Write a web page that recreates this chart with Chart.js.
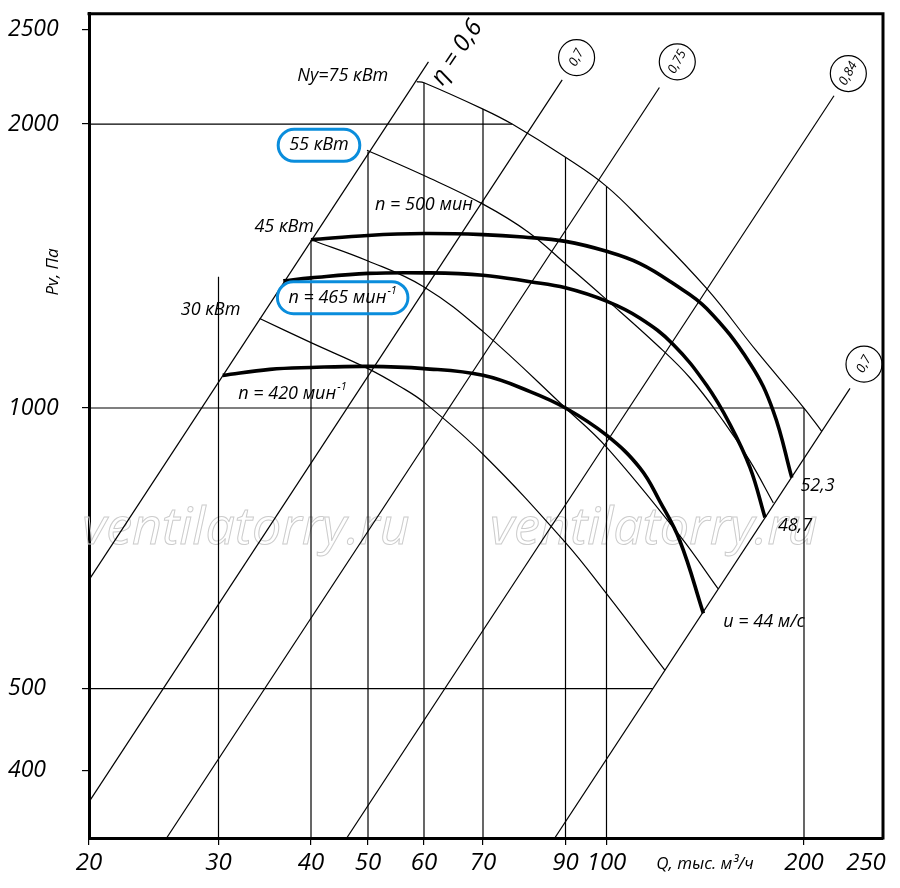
<!DOCTYPE html>
<html><head><meta charset="utf-8">
<script src="https://cdn.jsdelivr.net/npm/chart.js@4"></script>
<style>html,body{margin:0;padding:0;background:#fff;}canvas{display:block;}</style>
</head><body>
<canvas id="c" width="900" height="888" style="width:900px;height:888px"></canvas>
<script>
// ---------- DATA (Q, тыс. м³/ч ; Pv, Па) ----------
const xTickValues = [20, 30, 40, 50, 60, 70, 90, 100, 200, 250];
const yTickValues = [400, 500, 1000, 2000, 2500];
const Q_MIN = 20, Q_MAX = 265.8, P_MIN = 333.1, P_MAX = 2594;

// fan curves
const n500Q = [40, 50, 60, 70, 79.1, 90, 100, 112.5, 126.4, 142.1, 165.5, 179.6, 191.6];
const n500P = [1508, 1524, 1531, 1527, 1518, 1502, 1466, 1423, 1355, 1275, 1115, 992, 842];
const n465Q = [36.7, 40, 50, 60, 70, 80.8, 90, 100, 112.5, 126.4, 142.1, 154.3, 165.5, 174.4];
const n465P = [1364, 1374, 1389, 1391, 1383, 1361, 1341, 1298, 1245, 1168, 1057, 960, 863, 763];
const n420Q = [30.4, 35.2, 40, 50, 60, 70, 80.8, 90, 100, 112.5, 120.7, 129.4, 140.5];
const n420P = [1083, 1099, 1104, 1107, 1101, 1083, 1041, 1000, 935, 862, 793, 720, 602];

// shaft power curves
const pw75Q = [58.6, 60, 70, 76.5, 90, 100, 113.8, 142.1, 169.0, 200, 213.2];
const pw75P = [2211, 2205, 2072, 2000, 1844, 1718, 1575, 1339, 1151, 1000, 944];
const pw55Q = [49.8, 60, 70, 80.3, 90, 100, 119.3, 134.1, 150.7, 165.5, 179.6];
const pw55P = [1876, 1764, 1645, 1537, 1422, 1303, 1167, 1076, 968, 877, 791];
const pw45Q = [40, 50, 60, 70, 90, 100, 129.4, 147.9];
const pw45P = [1508, 1432, 1344, 1205, 1000, 908, 729, 640];
const pw30Q = [34.1, 40, 50, 55.5, 60, 70, 90, 100, 122.8];
const pw30P = [1244, 1173, 1101, 1054, 1014, 892, 717, 632, 523];

// efficiency lines
const etaNames  = ['η = 0,6', '0,7', '0,75', '0,84', '0,7'];
const etaStartQ = [20, 20, 25.5, 46.0, 87.1];
const etaStartP = [654, 367.5, 333.1, 333.1, 333.1];
const etaEndQ   = [60.7, 89.1, 120.4, 222.8, 236.0];
const etaEndP   = [2316, 2220, 2180, 2138, 1049];
const etaTagQ   = [65.4, 92.6, 128.2, 234.6, 248.2];
const etaTagP   = [2367, 2339, 2316, 2253, 1113];

// grid segments
const vGridQ    = [30, 40, 50, 60, 70, 90, 100, 200];
const vGridTopP = [1378, 1508, 1870, 2205, 2072, 1844, 1718, 1000];
const hGridP    = [2000, 1000, 500];
const hGridEndQ = [76.5, 200, 117.7];

// text labels ('^' marks a superscript)
const labelTexts = ['Ny=75 кВт', '55 кВт', '45 кВт', '30 кВт', 'n = 500 мин', 'n = 465 мин^-1', 'n = 420 мин^-1', '52,3', '48,7', 'u = 44 м/с'];
const labelQ = [45.3, 41.27, 36.8, 29.26, 60, 45.28, 37.76, 210.0, 193.8, 173.8];
const labelP = [2242, 1899, 1556, 1271, 1641, 1309, 1034, 824.7, 747.4, 590.1];
const boxedLabels = [1, 5];
const watermarkText = 'ventilatorry.ru';
const watermarkQ = [32.68, 118.1];
const watermarkP = [742, 742];

// ---------- warped log scale (calibrated to the drawing's axis) ----------
const WARP = {
  x: [[20,0],[30,0.16310],[40,0.27960],[50,0.35139],[60,0.42191],[70,0.49622],[90,0.60013],[100,0.65176],[200,0.90050],[250,0.97859]],
  y: [[333.1,0],[400,0.08171],[500,0.18131],[1000,0.52170],[2000,0.86619],[2500,0.98102]]
};
class WarpedLogScale extends Chart.LogarithmicScale {
  _frac(v) {
    const k = WARP[this.axis]; const lv = Math.log(v);
    let i = 0;
    while (i < k.length - 2 && lv > Math.log(k[i+1][0])) i++;
    const la = Math.log(k[i][0]), lb = Math.log(k[i+1][0]);
    return k[i][1] + (lv - la) / (lb - la) * (k[i+1][1] - k[i][1]);
  }
  getPixelForValue(v) {
    if (v === undefined || v === null || !(v > 0)) return NaN;
    const f = this._frac(v);
    return this.isHorizontal() ? this.left + f * this.width : this.bottom - f * this.height;
  }
  getValueForPixel(p) {
    const k = WARP[this.axis];
    const f = this.isHorizontal() ? (p - this.left) / this.width : (this.bottom - p) / this.height;
    let i = 0;
    while (i < k.length - 2 && f > k[i+1][1]) i++;
    const la = Math.log(k[i][0]), lb = Math.log(k[i+1][0]);
    return Math.exp(la + (f - k[i][1]) / (k[i+1][1] - k[i][1]) * (lb - la));
  }
}
WarpedLogScale.id = 'warpedLog';
WarpedLogScale.defaults = Chart.LogarithmicScale.defaults;
Chart.register(WarpedLogScale);

// ---------- datasets ----------
const pts = (qs, ps) => qs.map((q, i) => ({ x: q, y: ps[i] }));
const THIN = 1.2, THICK = 3.6;
const datasets = [];
function addLine(data, width, tension) {
  datasets.push({ data, borderColor: '#000', borderWidth: width, pointRadius: 0,
    fill: false, tension: tension, borderCapStyle: 'butt' });
}
vGridQ.forEach((q, i) => addLine([{ x: q, y: P_MIN }, { x: q, y: vGridTopP[i] }], THIN, 0));
hGridP.forEach((p, i) => addLine([{ x: Q_MIN, y: p }, { x: hGridEndQ[i], y: p }], THIN, 0));
etaNames.forEach((n, i) => addLine([{ x: etaStartQ[i], y: etaStartP[i] }, { x: etaEndQ[i], y: etaEndP[i] }], THIN, 0));
addLine(pts(pw75Q, pw75P), THIN, 0.4);
addLine(pts(pw55Q, pw55P), THIN, 0.4);
addLine(pts(pw45Q, pw45P), THIN, 0.4);
addLine(pts(pw30Q, pw30P), THIN, 0.4);
addLine(pts(n500Q, n500P), THICK, 0.4);
addLine(pts(n465Q, n465P), THICK, 0.4);
addLine(pts(n420Q, n420P), THICK, 0.4);

// ---------- annotation plugin ----------
const FONT = '"Open Sans", "Noto Sans", sans-serif';
function drawLabel(ctx, text, cx, cy) {
  const [base, sup] = text.split('^');
  ctx.font = `italic 18px ${FONT}`;
  const wb = ctx.measureText(base).width;
  let ws = 0;
  if (sup) { ctx.font = `italic 11px ${FONT}`; ws = ctx.measureText(sup).width + 1; }
  const total = wb + ws;
  const x0 = cx - total / 2;
  ctx.textAlign = 'left'; ctx.textBaseline = 'middle';
  ctx.font = `italic 18px ${FONT}`;
  ctx.fillText(base, x0, cy);
  if (sup) { ctx.font = `italic 11px ${FONT}`; ctx.fillText(sup, x0 + wb + 1, cy - 7); }
  return total;
}
const annotate = {
  id: 'annotate',
  beforeDatasetsDraw(chart) {
    const { ctx, scales: { x, y } } = chart;
    ctx.save();
    ctx.font = `italic 52px ${FONT}`;
    ctx.textAlign = 'center'; ctx.textBaseline = 'middle';
    ctx.strokeStyle = '#cccccc'; ctx.lineWidth = 1;
    watermarkQ.forEach((q, i) => ctx.strokeText(watermarkText, x.getPixelForValue(q), y.getPixelForValue(watermarkP[i])));
    ctx.restore();
  },
  afterDatasetsDraw(chart) {
    const { ctx, chartArea: a, scales: { x, y } } = chart;
    ctx.save();
    // top & right frame
    ctx.strokeStyle = '#000'; ctx.lineWidth = 3;
    ctx.beginPath();
    ctx.moveTo(a.left - 1.5, a.top); ctx.lineTo(a.right, a.top); ctx.lineTo(a.right, a.bottom + 1.5);
    ctx.stroke();
    ctx.fillStyle = '#000';
    // labels
    labelTexts.forEach((t, i) => {
      const px = x.getPixelForValue(labelQ[i]), py = y.getPixelForValue(labelP[i]);
      const w0 = drawLabel(ctx, t, px, py);
      if (boxedLabels.includes(i)) {
        const w = w0 + 22, h = 32, r = h / 2;
        ctx.save();
        ctx.strokeStyle = '#0a8ddc'; ctx.lineWidth = 3;
        ctx.beginPath();
        ctx.roundRect(px - w / 2, py - h / 2, w, h, r);
        ctx.stroke();
        ctx.restore();
      }
    });
    ctx.textAlign = 'center'; ctx.textBaseline = 'middle';
    // efficiency tags
    etaNames.forEach((n, i) => {
      const px = x.getPixelForValue(etaTagQ[i]), py = y.getPixelForValue(etaTagP[i]);
      ctx.save();
      ctx.translate(px, py);
      if (i === 0) {
        ctx.rotate(-56 * Math.PI / 180);
        ctx.font = `italic 24px ${FONT}`;
        ctx.fillText(n, 0, 0);
      } else {
        ctx.lineWidth = 1.2; ctx.strokeStyle = '#000';
        ctx.beginPath(); ctx.arc(0, 0, 18, 0, Math.PI * 2); ctx.stroke();
        ctx.rotate(-62 * Math.PI / 180);
        ctx.font = `italic 13px ${FONT}`;
        ctx.fillText(n, 0, 0);
      }
      ctx.restore();
    });
    // axis titles
    ctx.font = `italic 17px ${FONT}`;
    ctx.save();
    ctx.translate(a.left - 36, y.getPixelForValue(1394));
    ctx.rotate(-Math.PI / 2);
    ctx.fillText('Pv, Па', 0, 0);
    ctx.restore();
    ctx.fillText('Q, тыс. м\u00B3/ч', x.getPixelForValue(141.3), a.bottom + 26);
    ctx.restore();
  }
};

new Chart(document.getElementById('c'), {
  type: 'line',
  data: { datasets },
  plugins: [annotate],
  options: {
    responsive: false,
    animation: false,
    events: [],
    layout: { padding: { left: 8, top: 11, right: 17, bottom: 0 } },
    plugins: { legend: { display: false }, tooltip: { enabled: false } },
    scales: {
      x: {
        type: 'warpedLog', position: 'bottom', min: Q_MIN, max: Q_MAX,
        border: { display: true, color: '#000', width: 3 },
        grid: { drawOnChartArea: false, drawTicks: true, tickLength: 7, lineWidth: 1.2,
          color: c => (c.tick && c.tick.value === 250) ? 'rgba(0,0,0,0)' : '#000' },
        ticks: { autoSkip: false, maxRotation: 0, color: '#000', padding: 4,
          font: { family: FONT, style: 'italic', size: 24 }, callback: v => String(v) },
        afterBuildTicks: s => { s.ticks = xTickValues.map(v => ({ value: v })); },
        afterFit: s => { s.height = 50; }
      },
      y: {
        type: 'warpedLog', position: 'left', min: P_MIN, max: P_MAX,
        border: { display: true, color: '#000', width: 3 },
        grid: { drawOnChartArea: false, drawTicks: true, tickLength: 7, lineWidth: 1.2, color: '#000' },
        ticks: { autoSkip: false, color: '#000', crossAlign: 'far', padding: 0,
          font: { family: FONT, style: 'italic', size: 23 }, callback: v => String(v) },
        afterBuildTicks: s => { s.ticks = yTickValues.map(v => ({ value: v })); },
        afterFit: s => { s.width = 81; }
      }
    }
  }
});
</script>
</body></html>
